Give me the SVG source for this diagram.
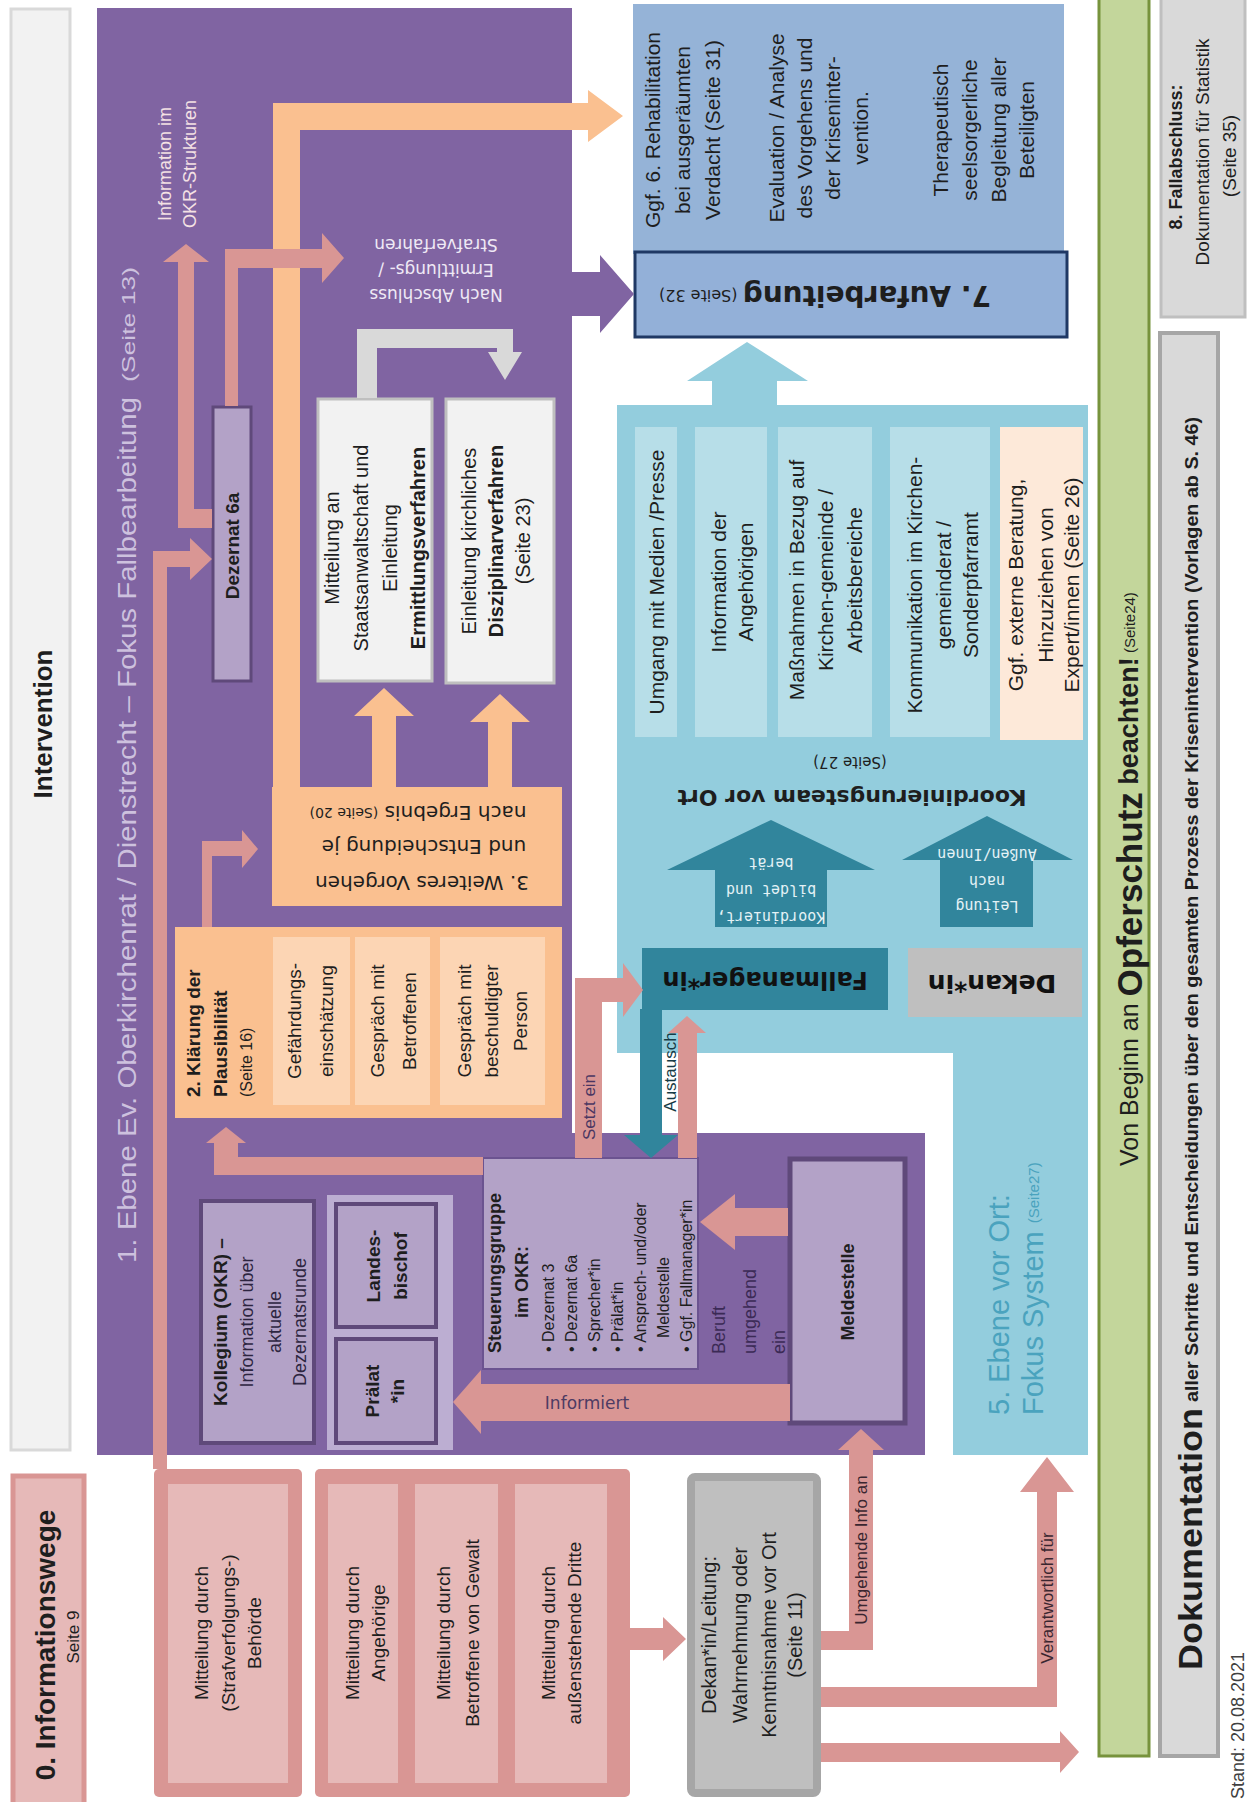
<svg xmlns="http://www.w3.org/2000/svg" width="1249" height="1802" viewBox="0 0 1249 1802">
<defs>
<style>
text{font-family:"Liberation Sans",Arial,sans-serif;dominant-baseline:central;text-anchor:middle;fill:#1e1e1e}
.st{text-anchor:start}
.b{font-weight:bold}
.dv{font-family:"DejaVu Sans",Verdana,sans-serif}
.mono{font-family:"DejaVu Sans Mono",monospace}
.pink{fill:#d99694}
.org{fill:#fac090}
.lorg{fill:#fcd5b4}
.lpb{fill:#b3a2c7;stroke:#5f497a;stroke-width:4}
.lgray{fill:#f2f2f2;stroke:#bfbfbf;stroke-width:3}
.col{fill:#b7dee8}
.teal{fill:#31859c}
.pinkin{fill:#e6b9b8}
</style>
</defs>
<rect width="1249" height="1802" fill="#ffffff"/>

<!-- containers -->
<g id="intervention">
<rect x="11" y="9" width="59" height="1441" fill="#f2f2f2" stroke="#d9d9d9" stroke-width="3"/>
<text class="b" font-size="26" fill="#262626" x="43" y="724" transform="rotate(-90 43 724)">Intervention</text>
</g>

<g id="ebene1">
<polygon points="97,8 572,8 572,1133 925,1133 925,1455 97,1455" fill="#8064a2"/>
<text class="st" font-size="26" style="fill:#cdc1de" x="127" y="1263" transform="rotate(-90 127 1263)" textLength="866" lengthAdjust="spacingAndGlyphs">1. Ebene Ev. Oberkirchenrat / Dienstrecht – Fokus Fallbearbeitung</text>
<text class="st" font-size="18" style="fill:#cdc1de" x="129" y="382" transform="rotate(-90 129 382)" textLength="115" lengthAdjust="spacingAndGlyphs">(Seite 13)</text>
<text font-size="18" style="fill:#f4e1e4" x="165" y="164" transform="rotate(-90 165 164)">Information im</text>
<text font-size="18" style="fill:#f4e1e4" x="190" y="164" transform="rotate(-90 190 164)">OKR-Strukturen</text>
<text class="dv" font-size="17" style="fill:#efe9f5" x="436" y="295" transform="rotate(180 436 295)">Nach Abschluss</text>
<text class="dv" font-size="17" style="fill:#efe9f5" x="436" y="270" transform="rotate(180 436 270)">Ermittlungs- /</text>
<text class="dv" font-size="17" style="fill:#efe9f5" x="436" y="245" transform="rotate(180 436 245)">Strafverfahren</text>
</g>

<g id="aufarbeitung">
<rect x="633" y="4" width="431" height="250" fill="#95b3d7"/>
<rect x="635" y="252" width="432" height="85" fill="#93b0d8" stroke="#1f3864" stroke-width="3"/>
<text font-size="28" x="825" y="296" transform="rotate(180 825 296)"><tspan class="b dv">7. Aufarbeitung</tspan><tspan class="dv" font-size="16"> (Seite 32)</tspan></text>
<text font-size="21" x="652" y="130" transform="rotate(-90 652 130)">Ggf. 6. Rehabilitation</text>
<text font-size="21" x="682" y="130" transform="rotate(-90 682 130)">bei ausgeräumten</text>
<text font-size="21" x="712" y="130" transform="rotate(-90 712 130)">Verdacht (Seite 31)</text>
<text font-size="21" x="776" y="128" transform="rotate(-90 776 128)">Evaluation / Analyse</text>
<text font-size="21" x="804" y="128" transform="rotate(-90 804 128)">des Vorgehens und</text>
<text font-size="21" x="832" y="128" transform="rotate(-90 832 128)">der Kriseninter-</text>
<text font-size="21" x="860" y="128" transform="rotate(-90 860 128)">vention.</text>
<text font-size="21" x="940" y="130" transform="rotate(-90 940 130)">Therapeutisch</text>
<text font-size="21" x="969" y="130" transform="rotate(-90 969 130)">seelsorgerliche</text>
<text font-size="21" x="998" y="130" transform="rotate(-90 998 130)">Begleitung aller</text>
<text font-size="21" x="1026" y="130" transform="rotate(-90 1026 130)">Beteiligten</text>
</g>

<g id="ebene5">
<polygon points="617,405 1088,405 1088,1455 953,1455 953,1053 617,1053" fill="#93cddd"/>
<text class="st" font-size="29" style="fill:#4aa3be" x="999" y="1415" transform="rotate(-90 999 1415)">5. Ebene vor Ort:</text>
<text class="st" font-size="29" style="fill:#4aa3be" x="1033" y="1415" transform="rotate(-90 1033 1415)">Fokus System <tspan font-size="15">(Seite27)</tspan></text>
<text class="dv" font-size="15" x="850" y="762" transform="rotate(180 850 762)">(Seite 27)</text>
<text class="dv b" font-size="22" x="852" y="797" transform="rotate(180 852 797)">Koordinierungsteam vor Ort</text>
</g>

<g id="opferschutz">
<rect x="1099" y="-3" width="50" height="1759" fill="#c3d69b" stroke="#77933c" stroke-width="3"/>
<text class="st" font-size="25" x="1129" y="1166" transform="rotate(-90 1129 1166)">Von Beginn an <tspan class="b" font-size="35">Opferschutz</tspan><tspan class="b" font-size="27"> beachten!</tspan><tspan font-size="15"> (Seite24)</tspan></text>
</g>

<g id="dokumentation">
<rect x="1160" y="333" width="58" height="1423" fill="#d9d9d9" stroke="#a6a6a6" stroke-width="4"/>
<text class="st b" font-size="33" x="1190" y="1670" transform="rotate(-90 1190 1670)" textLength="262" lengthAdjust="spacingAndGlyphs">Dokumentation</text>
<text class="st b" font-size="18" x="1192" y="1402" transform="rotate(-90 1192 1402)" textLength="985" lengthAdjust="spacingAndGlyphs">aller Schritte und Entscheidungen über den gesamten Prozess der Krisenintervention (Vorlagen ab S. 46)</text>
</g>

<g id="fallabschluss">
<rect x="1161" y="-3" width="84" height="320" fill="#d9d9d9" stroke="#bfbfbf" stroke-width="3"/>
<text class="b" font-size="18" x="1176" y="157" transform="rotate(-90 1176 157)">8. Fallabschluss:</text>
<text font-size="19" x="1202" y="152" transform="rotate(-90 1202 152)">Dokumentation für Statistik</text>
<text font-size="19" x="1229" y="156" transform="rotate(-90 1229 156)">(Seite 35)</text>
</g>

<g id="stand">
<text class="st" font-size="18" style="fill:#404040" x="1238" y="1799" transform="rotate(-90 1238 1799)">Stand: 20.08.2021</text>
</g>

<!-- nodes -->
<g id="dezernat6a">
<rect x="213" y="407" width="38" height="274" fill="#b3a2c7" stroke="#5f497a" stroke-width="3"/>
<text class="b" font-size="19" x="232" y="546" transform="rotate(-90 232 546)">Dezernat 6a</text>
</g>

<g id="staatsanwaltschaft">
<rect class="lgray" x="318" y="399" width="114" height="282"/>
<text font-size="20" x="332" y="548" transform="rotate(-90 332 548)">Mitteilung an</text>
<text font-size="20" x="361" y="548" transform="rotate(-90 361 548)">Staatsanwaltschaft und</text>
<text font-size="20" x="390" y="548" transform="rotate(-90 390 548)">Einleitung</text>
<text class="b" font-size="20" x="418" y="548" transform="rotate(-90 418 548)">Ermittlungsverfahren</text>
</g>

<g id="disziplinar">
<rect class="lgray" x="446" y="399" width="108" height="284"/>
<text font-size="20" x="469" y="541" transform="rotate(-90 469 541)">Einleitung kirchliches</text>
<text class="b" font-size="20" x="496" y="541" transform="rotate(-90 496 541)">Disziplinarverfahren</text>
<text font-size="20" x="523" y="541" transform="rotate(-90 523 541)">(Seite 23)</text>
</g>

<g id="weiteres">
<rect class="org" x="272" y="787" width="290" height="119"/>
<text class="dv" font-size="20" x="422" y="883" transform="rotate(180 422 883)">3. Weiteres Vorgehen</text>
<text class="dv" font-size="20" x="424" y="847" transform="rotate(180 424 847)">und Entscheidung je</text>
<text class="dv" font-size="20" x="418" y="813" transform="rotate(180 418 813)">nach Ergebnis <tspan font-size="14">(Seite 20)</tspan></text>
</g>

<g id="klaerung">
<rect class="org" x="175" y="927" width="387" height="191"/>
<rect class="lorg" x="273" y="937" width="77" height="168"/>
<rect class="lorg" x="355" y="937" width="75" height="168"/>
<rect class="lorg" x="440" y="937" width="105" height="168"/>
<text class="st b" font-size="19" x="193" y="1097" transform="rotate(-90 193 1097)">2. Klärung der</text>
<text class="st b" font-size="19" x="220" y="1097" transform="rotate(-90 220 1097)">Plausibilität</text>
<text class="st" font-size="16" x="246" y="1097" transform="rotate(-90 246 1097)">(Seite 16)</text>
<text font-size="19" x="294" y="1021" transform="rotate(-90 294 1021)">Gefährdungs-</text>
<text font-size="19" x="326" y="1021" transform="rotate(-90 326 1021)">einschätzung</text>
<text font-size="19" x="377" y="1021" transform="rotate(-90 377 1021)">Gespräch mit</text>
<text font-size="19" x="409" y="1021" transform="rotate(-90 409 1021)">Betroffenen</text>
<text font-size="19" x="464" y="1021" transform="rotate(-90 464 1021)">Gespräch mit</text>
<text font-size="19" x="491" y="1021" transform="rotate(-90 491 1021)">beschuldigter</text>
<text font-size="19" x="520" y="1021" transform="rotate(-90 520 1021)">Person</text>
</g>

<g id="kollegium">
<rect class="lpb" x="201" y="1201" width="113" height="242"/>
<text class="b" font-size="19" x="220" y="1322" transform="rotate(-90 220 1322)">Kollegium (OKR) –</text>
<text font-size="18" style="fill:#2d2540" x="247" y="1322" transform="rotate(-90 247 1322)">Information über</text>
<text font-size="18" style="fill:#2d2540" x="275" y="1322" transform="rotate(-90 275 1322)">aktuelle</text>
<text font-size="18" style="fill:#2d2540" x="300" y="1322" transform="rotate(-90 300 1322)">Dezernatsrunde</text>
</g>

<g id="leitung-okr">
<rect x="327" y="1195" width="126" height="255" fill="#bcaed2"/>
</g>
<g id="landesbischof">
<rect class="lpb" x="336" y="1204" width="100" height="123"/>
<text class="b" font-size="19" x="373" y="1266" transform="rotate(-90 373 1266)">Landes-</text>
<text class="b" font-size="19" x="400" y="1266" transform="rotate(-90 400 1266)">bischof</text>
</g>
<g id="praelat">
<rect class="lpb" x="336" y="1339" width="100" height="104"/>
<text class="b" font-size="19" x="372" y="1391" transform="rotate(-90 372 1391)">Prälat</text>
<text class="b" font-size="19" x="397" y="1391" transform="rotate(-90 397 1391)">*in</text>
</g>

<g id="steuerungsgruppe">
<rect x="483" y="1158" width="215" height="211" fill="#b3a2c7" stroke="#6b5390" stroke-width="2"/>
<text class="st b" font-size="18" x="495" y="1353" transform="rotate(-90 495 1353)">Steuerungsgruppe</text>
<text class="b" font-size="18" x="522" y="1282" transform="rotate(-90 522 1282)">im OKR:</text>
<text class="st" font-size="16" x="548" y="1352" transform="rotate(-90 548 1352)">• Dezernat 3</text>
<text class="st" font-size="16" x="571" y="1352" transform="rotate(-90 571 1352)">• Dezernat 6a</text>
<text class="st" font-size="16" x="594" y="1352" transform="rotate(-90 594 1352)">• Sprecher*in</text>
<text class="st" font-size="16" x="617" y="1352" transform="rotate(-90 617 1352)">• Prälat*in</text>
<text class="st" font-size="16" x="640" y="1352" transform="rotate(-90 640 1352)">• Ansprech- und/oder</text>
<text class="st" font-size="16" x="663" y="1338" transform="rotate(-90 663 1338)">Meldestelle</text>
<text class="st" font-size="16" x="686" y="1352" transform="rotate(-90 686 1352)">• Ggf. Fallmanager*in</text>
</g>

<g id="meldestelle">
<rect x="790" y="1159" width="115" height="264" fill="#b3a2c7" stroke="#5f497a" stroke-width="5"/>
<text class="b" font-size="18" x="848" y="1292" transform="rotate(-90 848 1292)">Meldestelle</text>
</g>

<g id="spalten">
<rect class="col" x="635" y="427" width="42" height="310"/>
<rect class="col" x="695" y="427" width="72" height="310"/>
<rect class="col" x="778" y="427" width="94" height="310"/>
<rect class="col" x="890" y="427" width="100" height="310"/>
<rect x="1000" y="427" width="83" height="313" fill="#fde9d9"/>
<text font-size="21" x="656" y="582" transform="rotate(-90 656 582)">Umgang mit Medien /Presse</text>
<text font-size="21" x="718" y="582" transform="rotate(-90 718 582)">Information der</text>
<text font-size="21" x="745" y="582" transform="rotate(-90 745 582)">Angehörigen</text>
<text font-size="21" x="796" y="580" transform="rotate(-90 796 580)">Maßnahmen in Bezug auf</text>
<text font-size="21" x="825" y="580" transform="rotate(-90 825 580)">Kirchen-gemeinde /</text>
<text font-size="21" x="854" y="580" transform="rotate(-90 854 580)">Arbeitsbereiche</text>
<text font-size="21" x="914" y="585" transform="rotate(-90 914 585)">Kommunikation im Kirchen-</text>
<text font-size="21" x="943" y="585" transform="rotate(-90 943 585)">gemeinderat /</text>
<text font-size="21" x="970" y="585" transform="rotate(-90 970 585)">Sonderpfarramt</text>
<text font-size="21" x="1015" y="585" transform="rotate(-90 1015 585)">Ggf. externe Beratung,</text>
<text font-size="21" x="1045" y="585" transform="rotate(-90 1045 585)">Hinzuziehen von</text>
<text font-size="21" x="1071" y="585" transform="rotate(-90 1071 585)">Expert/innen (Seite 26)</text>
</g>

<g id="fallmanager">
<rect class="teal" x="642" y="948" width="246" height="62"/>
<text class="b dv" font-size="24" style="fill:#111" x="765" y="980" transform="rotate(180 765 980)">Fallmanager*in</text>
</g>

<g id="dekan">
<rect x="908" y="948" width="174" height="69" fill="#bfbfbf"/>
<text class="b dv" font-size="25" style="fill:#111" x="992" y="983" transform="rotate(180 992 983)">Dekan*in</text>
</g>

<g id="informationswege">
<rect x="13" y="1476" width="71" height="340" fill="#e6b9b8" stroke="#d99694" stroke-width="5"/>
<text class="b" font-size="28" x="45" y="1645" transform="rotate(-90 45 1645)">0. Informationswege</text>
<text font-size="17" x="73" y="1637" transform="rotate(-90 73 1637)">Seite 9</text>
</g>

<g id="behoerde">
<rect class="pink" x="154" y="1469" width="148" height="328" rx="5"/>
<rect class="pinkin" x="168" y="1484" width="120" height="299"/>
<text font-size="19" x="201" y="1633" transform="rotate(-90 201 1633)">Mitteilung durch</text>
<text font-size="19" x="228" y="1633" transform="rotate(-90 228 1633)">(Strafverfolgungs-)</text>
<text font-size="19" x="254" y="1633" transform="rotate(-90 254 1633)">Behörde</text>
</g>

<g id="mitteilungen">
<rect class="pink" x="315" y="1469" width="315" height="328" rx="5"/>
<rect class="pinkin" x="328" y="1484" width="70" height="299"/>
<rect class="pinkin" x="415" y="1484" width="83" height="299"/>
<rect class="pinkin" x="515" y="1484" width="92" height="299"/>
<text font-size="19" x="352" y="1633" transform="rotate(-90 352 1633)">Mitteilung durch</text>
<text font-size="19" x="378" y="1633" transform="rotate(-90 378 1633)">Angehörige</text>
<text font-size="19" x="443" y="1633" transform="rotate(-90 443 1633)">Mitteilung durch</text>
<text font-size="19" x="472" y="1633" transform="rotate(-90 472 1633)">Betroffene von Gewalt</text>
<text font-size="19" x="548" y="1633" transform="rotate(-90 548 1633)">Mitteilung durch</text>
<text font-size="19" x="574" y="1633" transform="rotate(-90 574 1633)">außenstehende Dritte</text>
</g>

<g id="dekan-leitung">
<rect x="691" y="1477" width="126" height="316" rx="4" fill="#bfbfbf" stroke="#a6a6a6" stroke-width="8"/>
<text font-size="20" x="709" y="1635" transform="rotate(-90 709 1635)">Dekan*in/Leitung:</text>
<text font-size="20" x="740" y="1635" transform="rotate(-90 740 1635)">Wahrnehmung oder</text>
<text font-size="20" x="769" y="1635" transform="rotate(-90 769 1635)">Kenntnisnahme vor Ort</text>
<text font-size="20" x="795" y="1635" transform="rotate(-90 795 1635)">(Seite 11)</text>
</g>

<!-- connectors -->
<g id="connectors">
<polygon class="org" points="273,787 273,103 588,103 588,90 623,116 588,142 588,130 300,130 300,787"/>
<polygon class="org" points="372,787 372,716 354,716 384,688 414,716 396,716 396,787"/>
<polygon class="org" points="488,787 488,722 470,722 500,694 530,722 512,722 512,787"/>
<polygon fill="#d9d9d9" points="357,398 357,329 513,329 513,352 522,352 505,380 488,352 497,352 497,348 377,348 377,398"/>
<polygon class="pink" points="225,406 225,249 322,249 322,233 344,258 322,283 322,268 238,268 238,406"/>
<polygon class="pink" points="212,509 194,509 194,262 209,262 186,244 163,262 178,262 178,528 212,528"/>
<polygon class="pink" points="153,1469 153,551 190,551 190,538 212,559 190,580 190,567 167,567 167,1469"/>
<polygon class="pink" points="202,927 202,841 242,841 242,830 258,849 242,868 242,856 212,856 212,927"/>
<polygon class="pink" points="483,1157 238,1157 238,1143 246,1143 226,1127 206,1143 214,1143 214,1175 483,1175"/>
<polygon fill="#8064a2" points="570,272 600,272 600,255 634,294 600,333 600,316 570,316"/>
<polygon fill="#93cddd" points="712,406 712,381 687,381 747,342 808,381 777,381 777,406"/>
<polygon class="teal" points="715,927 715,870 667,870 771,820 875,870 827,870 827,927"/>
<text class="mono" font-size="15" style="fill:#e4f2f6" x="771" y="917" transform="rotate(180 771 917)">Koordiniert,</text>
<text class="mono" font-size="15" style="fill:#e4f2f6" x="771" y="890" transform="rotate(180 771 890)">bildet und</text>
<text class="mono" font-size="15" style="fill:#e4f2f6" x="771" y="863" transform="rotate(180 771 863)">berät</text>
<polygon class="teal" points="940,927 940,860 902,860 987,816 1073,860 1033,860 1033,927"/>
<text class="mono" font-size="15" style="fill:#e4f2f6" x="987" y="906" transform="rotate(180 987 906)">Leitung</text>
<text class="mono" font-size="15" style="fill:#e4f2f6" x="987" y="881" transform="rotate(180 987 881)">nach</text>
<text class="mono" font-size="15" style="fill:#e4f2f6" x="987" y="854" transform="rotate(180 987 854)">Außen/Innen</text>
<polygon class="pink" points="575,1158 575,978 623,978 623,963 643,990 623,1017 623,1002 602,1002 602,1158"/>
<text font-size="17" style="fill:#4b3662" x="589" y="1107" transform="rotate(-90 589 1107)">Setzt ein</text>
<polygon class="teal" points="640,1009 662,1009 662,1135 678,1135 651,1158 624,1135 640,1135"/>
<polygon class="pink" points="678,1158 678,1033 668,1033 687,1016 706,1033 697,1033 697,1158"/>
<text font-size="17" style="fill:#163a45" x="670" y="1072" transform="rotate(-90 670 1072)">Austausch</text>
<polygon class="pink" points="788,1208 735,1208 735,1194 700,1222 735,1250 735,1236 788,1236"/>
<text class="st" font-size="18" style="fill:#3b2a55" x="719" y="1354" transform="rotate(-90 719 1354)">Beruft</text>
<text class="st" font-size="18" style="fill:#3b2a55" x="750" y="1354" transform="rotate(-90 750 1354)">umgehend</text>
<text class="st" font-size="18" style="fill:#3b2a55" x="779" y="1354" transform="rotate(-90 779 1354)">ein</text>
<polygon class="pink" points="790,1384 481,1384 481,1370 453,1402 481,1434 481,1421 790,1421"/>
<text class="dv" font-size="17" style="fill:#4d3b63" x="587" y="1403">Informiert</text>
<polygon class="pink" points="630,1628 663,1628 663,1617 686,1639 663,1661 663,1650 630,1650"/>
<polygon class="pink" points="821,1631 849,1631 849,1450 838,1450 861,1429 884,1450 873,1450 873,1650 821,1650"/>
<text font-size="17" style="fill:#3a2630" x="861" y="1550" transform="rotate(-90 861 1550)">Umgehende  Info an</text>
<polygon class="pink" points="821,1687 1037,1687 1037,1492 1020,1492 1047,1457 1074,1492 1057,1492 1057,1707 821,1707"/>
<text font-size="17" style="fill:#3a2630" x="1047" y="1598" transform="rotate(-90 1047 1598)">Verantwortlich für</text>
<polygon class="pink" points="821,1743 1060,1743 1060,1731 1079,1752 1060,1773 1060,1762 821,1762"/>
</g>
</svg>
